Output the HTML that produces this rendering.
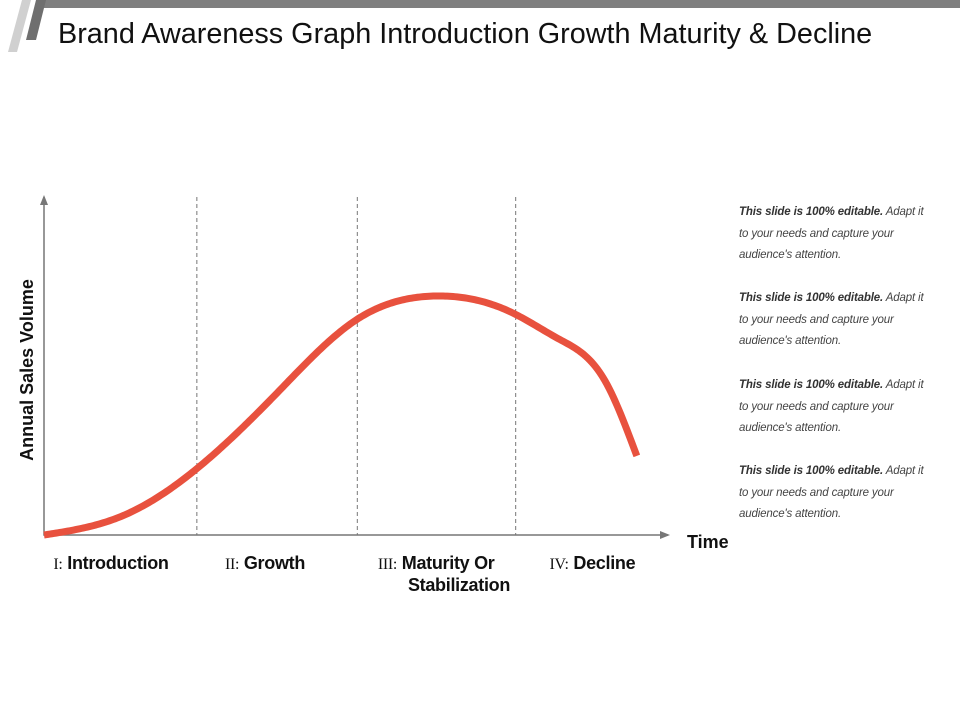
<!DOCTYPE html>
<html><head><meta charset="utf-8"><style>
body{margin:0;background:#fff;font-family:"Liberation Sans",sans-serif}
#root{position:relative;width:960px;height:720px;overflow:hidden}
.note{position:absolute;left:739px;width:220px;font-size:11.5px;line-height:21.5px;color:#444;font-style:italic;white-space:nowrap;letter-spacing:-0.15px}
.note b{color:#333}
</style></head><body>
<div id="root">
<svg width="960" height="720" style="position:absolute;left:0;top:0">
  <rect x="40" y="0" width="920" height="8" fill="#7f7f7f"/>
  <polygon points="22,0 31,0 17,52 8,52" fill="#d0d0d0"/>
  <polygon points="36,0 46,0 36,40 26,40" fill="#6f6f6f"/>
  <text x="58" y="43" font-size="28.8" fill="#111" font-family="Liberation Sans">Brand Awareness Graph Introduction Growth Maturity &amp; Decline</text>
  <g id="plot"></g>
  <text transform="translate(33,370) rotate(-90)" text-anchor="middle" font-size="18" font-weight="bold" fill="#111">Annual Sales Volume</text>
  <text x="687" y="548" font-size="18" font-weight="bold" fill="#111">Time</text>
</svg>
<div class="note" style="top:202px"><b>This slide is 100% editable.</b> Adapt it<br>to your needs and capture your<br>audience's attention.</div>
<div class="note" style="top:288px"><b>This slide is 100% editable.</b> Adapt it<br>to your needs and capture your<br>audience's attention.</div>
<div class="note" style="top:375px"><b>This slide is 100% editable.</b> Adapt it<br>to your needs and capture your<br>audience's attention.</div>
<div class="note" style="top:461px"><b>This slide is 100% editable.</b> Adapt it<br>to your needs and capture your<br>audience's attention.</div>
</div>
<script>
const timeValues=[0,12.5,25,37.5,50,62.5,75,82.5,90,95];
const salesValues=[0,5.6,20.4,42.3,63.6,70.7,65.8,58.0,45.3,23.4];
const stageBoundaries=[24.5,50.2,75.6];
const stageNumerals=["I:","II:","III:","IV:"];
const stageNames=["Introduction","Growth","Maturity Or","Decline"];
const stageStarts=[1.5,29,53.5,81];

const X0=44,X1=668,Y0=535,Y1=197;
const xs=v=>X0+(X1-X0)*v/100;
const ys=v=>Y0-(Y0-Y1)*v/100;
const NS="http://www.w3.org/2000/svg";
const g=document.getElementById('plot');
function mk(t,a){const e=document.createElementNS(NS,t);for(const k in a)e.setAttribute(k,a[k]);g.appendChild(e);return e;}

stageBoundaries.forEach(b=>{
  const l=mk('line',{x1:xs(b),x2:xs(b),y1:197,y2:535,stroke:'#555','stroke-width':0.8,'stroke-dasharray':'4,3'});
  
  
});
const ax=mk('path',{d:`M${X0},${Y1} V${Y0} H${X1}`,fill:'none',stroke:'#777','stroke-width':1.5});


const ah1=mk('polygon',{points:`${X0-4},${Y1+8} ${X0},${Y1-2} ${X0+4},${Y1+8}`,fill:'#777'});


const ah2=mk('polygon',{points:`${X1-8},${Y0-4} ${X1+2},${Y0} ${X1-8},${Y0+4}`,fill:'#777'});



function spline(x,y){
  const n=x.length,h=[],a=[],l=[1],mu=[0],z=[0],c=new Array(n).fill(0),b=[],dd=[];
  for(let i=0;i<n-1;i++)h[i]=x[i+1]-x[i];
  for(let i=1;i<n-1;i++)a[i]=3/h[i]*(y[i+1]-y[i])-3/h[i-1]*(y[i]-y[i-1]);
  for(let i=1;i<n-1;i++){l[i]=2*(x[i+1]-x[i-1])-h[i-1]*mu[i-1];mu[i]=h[i]/l[i];z[i]=(a[i]-h[i-1]*z[i-1])/l[i];}
  l[n-1]=1;z[n-1]=0;
  for(let j=n-2;j>=0;j--){c[j]=z[j]-mu[j]*c[j+1];b[j]=(y[j+1]-y[j])/h[j]-h[j]*(c[j+1]+2*c[j])/3;dd[j]=(c[j+1]-c[j])/(3*h[j]);}
  return t=>{let j=0;while(j<n-2&&t>x[j+1])j++;const u=t-x[j];return y[j]+b[j]*u+c[j]*u*u+dd[j]*u*u*u;};
}
const f=spline(timeValues,salesValues);
const tEnd=timeValues[timeValues.length-1];
let d='';
for(let k=0;k<=300;k++){const t=tEnd*k/300;d+=(k?'L':'M')+xs(t).toFixed(2)+','+ys(f(t)).toFixed(2);}
const curve=mk('path',{d,fill:'none',stroke:'#e8513e','stroke-width':7});



stageNames.forEach((n,i)=>{
  const x=xs(stageStarts[i]);
  const t=mk('text',{x:x,y:569,'font-size':18,fill:'#111','letter-spacing':-0.3});
  
  
  const s1=document.createElementNS(NS,'tspan');
  s1.setAttribute('font-family','Liberation Serif');s1.setAttribute('font-size','16');
  s1.textContent=stageNumerals[i];
  const s2=document.createElementNS(NS,'tspan');
  s2.setAttribute('font-weight','bold');s2.setAttribute('font-family','Liberation Sans');
  s2.textContent=' '+n;
  t.appendChild(s1);t.appendChild(s2);
});
const st=mk('text',{x:459,y:591,'font-size':18,'font-weight':'bold','text-anchor':'middle',fill:'#111','letter-spacing':-0.3});
st.textContent='Stabilization';


</script>
</body></html>
